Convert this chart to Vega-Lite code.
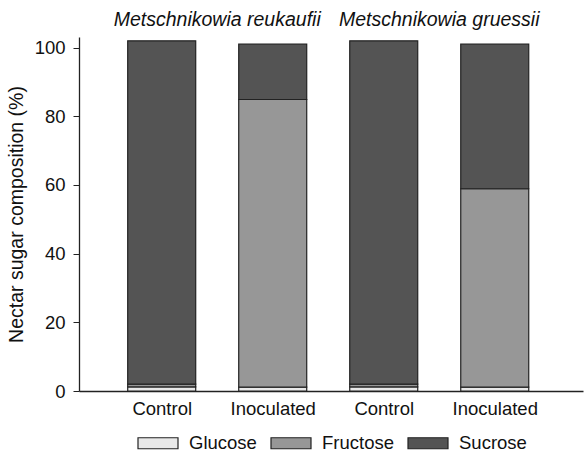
{
  "$schema": "https://vega.github.io/schema/vega-lite/v6.json",
  "width": 504,
  "height": 354,
  "autosize": {"type": "none"},
  "padding": {"left": 79, "top": 37, "right": 2, "bottom": 61},
  "config": {
    "view": {"stroke": null},
    "font": "Liberation Sans",
    "axis": {"grid": false, "domainColor": "#222222", "domainWidth": 1.3, "tickColor": "#222222", "labelColor": "#111111", "titleColor": "#111111", "labelFont": "Liberation Sans", "titleFont": "Liberation Sans"}
  },
  "data": {
    "values": [
      {"species": "Metschnikowia reukaufii", "treatment": "Control", "pos": 1, "sugar": "Glucose", "value": 1.2},
      {"species": "Metschnikowia reukaufii", "treatment": "Control", "pos": 1, "sugar": "Fructose", "value": 0.8},
      {"species": "Metschnikowia reukaufii", "treatment": "Control", "pos": 1, "sugar": "Sucrose", "value": 100},
      {"species": "Metschnikowia reukaufii", "treatment": "Inoculated", "pos": 2, "sugar": "Glucose", "value": 1.1},
      {"species": "Metschnikowia reukaufii", "treatment": "Inoculated", "pos": 2, "sugar": "Fructose", "value": 83.8},
      {"species": "Metschnikowia reukaufii", "treatment": "Inoculated", "pos": 2, "sugar": "Sucrose", "value": 16.1},
      {"species": "Metschnikowia gruessii", "treatment": "Control", "pos": 3, "sugar": "Glucose", "value": 1.2},
      {"species": "Metschnikowia gruessii", "treatment": "Control", "pos": 3, "sugar": "Fructose", "value": 0.8},
      {"species": "Metschnikowia gruessii", "treatment": "Control", "pos": 3, "sugar": "Sucrose", "value": 100},
      {"species": "Metschnikowia gruessii", "treatment": "Inoculated", "pos": 4, "sugar": "Glucose", "value": 1.1},
      {"species": "Metschnikowia gruessii", "treatment": "Inoculated", "pos": 4, "sugar": "Fructose", "value": 57.8},
      {"species": "Metschnikowia gruessii", "treatment": "Inoculated", "pos": 4, "sugar": "Sucrose", "value": 42.1}
    ]
  },
  "layer": [
    {
      "transform": [{"calculate": "indexof(['Glucose', 'Fructose', 'Sucrose'], datum.sugar)", "as": "stackOrder"}],
      "mark": {"type": "bar", "size": 68, "stroke": "#222222", "strokeWidth": 1.2},
      "encoding": {
        "x": {
          "field": "pos", "type": "quantitative",
          "scale": {"domain": [0.3, 4.75], "nice": false, "zero": false},
          "axis": {"title": null, "values": [1, 2, 3, 4], "ticks": false, "labelFontSize": 18.5, "labelPadding": 8,
            "labelExpr": "datum.value % 2 == 1 ? 'Control' : 'Inoculated'"}
        },
        "y": {
          "field": "value", "type": "quantitative", "stack": "zero",
          "scale": {"domain": [0, 103.1], "nice": false},
          "axis": {"title": "Nectar sugar composition (%)", "values": [0, 20, 40, 60, 80, 100], "tickSize": 6, "labelFontSize": 18.5, "labelPadding": 8, "titleFontSize": 19.5, "titleFontWeight": "normal", "titlePadding": 8}
        },
        "order": {"field": "stackOrder", "type": "quantitative", "sort": "ascending"},
        "color": {
          "field": "sugar", "type": "nominal",
          "scale": {"domain": ["Glucose", "Fructose", "Sucrose"], "range": ["#e8e8e8", "#979797", "#545454"]},
          "legend": {
            "title": null, "orient": "none", "direction": "horizontal", "legendX": 58, "legendY": 385,
            "symbolType": "M-1,-0.275 h2 v0.55 h-2 Z", "symbolSize": 1600, "symbolStrokeColor": "#222222", "symbolStrokeWidth": 1.2,
            "labelFontSize": 18.5, "labelOffset": 10, "columnPadding": 11, "labelColor": "#111111", "padding": 0
          }
        }
      }
    },
    {
      "mark": {"type": "text", "fontSize": 19.5, "fontStyle": "italic", "baseline": "alphabetic", "dy": -11, "color": "#111111"},
      "encoding": {
        "x": {"aggregate": "mean", "field": "pos", "type": "quantitative"},
        "y": {"datum": 103.1},
        "text": {"field": "species"}
      }
    }
  ]
}
